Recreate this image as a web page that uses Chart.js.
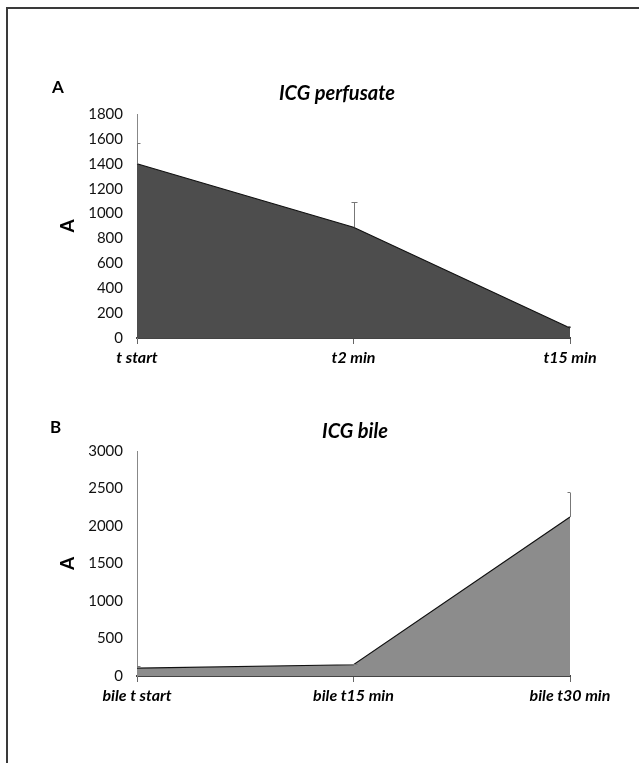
<!DOCTYPE html>
<html>
<head>
<meta charset="utf-8">
<script src="https://cdn.jsdelivr.net/npm/chart.js@4.4.1/dist/chart.umd.min.js"></script>
<style>
  html, body { margin: 0; padding: 0; background: #fff; }
  body { width: 639px; height: 763px; position: relative; overflow: hidden; }
  #frame { position: absolute; left: 6px; top: 7px; width: 700px; height: 800px;
           border-top: 2px solid #3a3a3a; border-left: 2px solid #3a3a3a; }
  canvas { position: absolute; left: 0; }
  #chartA { top: 70px; }
  #chartB { top: 410px; }
</style>
</head>
<body>
<div id="frame"></div>
<canvas id="chartA" width="639" height="310"></canvas>
<canvas id="chartB" width="639" height="308"></canvas>
<script>
// Panel A - ICG perfusate
const perfusateLabels = ['t start', 't2 min', 't15 min'];
const perfusateValues = [1400, 890, 80];
const perfusateErrors = [170, 205, 15];

// Panel B - ICG bile
const bileLabels = ['bile t start', 'bile t15 min', 'bile t30 min'];
const bileValues = [105, 150, 2120];
const bileErrors = [30, 8, 330];

Chart.defaults.font.family = 'Lato';
Chart.defaults.color = '#111';

// draws the upward error bars using the chart's own scales
const errorBars = {
    id: 'errorBars',
    afterDatasetsDraw(chart, args, opts) {
        const { ctx, chartArea } = chart;
        const x = chart.scales.x, y = chart.scales.y;
        const values = chart.data.datasets[0].data;
        ctx.save();
        ctx.strokeStyle = opts.color;
        ctx.lineWidth = 1;
        opts.errors.forEach((err, i) => {
            const px = Math.round(x.getPixelForValue(i)) + 0.5;
            const y0 = y.getPixelForValue(values[i]);
            const y1 = Math.round(y.getPixelForValue(values[i] + err)) + 0.5;
            ctx.beginPath();
            ctx.moveTo(px, y0);
            ctx.lineTo(px, y1);
            ctx.moveTo(Math.max(chartArea.left, px - 3), y1);
            ctx.lineTo(Math.min(chartArea.right, px + 3), y1);
            ctx.stroke();
        });
        ctx.restore();
    }
};

// panel letter and chart title
const panelText = {
    id: 'panelText',
    afterDraw(chart, args, opts) {
        const ctx = chart.ctx;
        ctx.save();
        ctx.fillStyle = '#000';
        ctx.textBaseline = 'middle';
        ctx.textAlign = 'left';
        ctx.font = 'bold 17px Lato';
        ctx.fillText(opts.letter, opts.letterX, opts.letterY);
        ctx.textAlign = 'center';
        ctx.font = 'italic bold 20px Lato';
        ctx.fillText(opts.title, opts.titleX, opts.titleY);
        ctx.restore();
    }
};

function makeChart(canvasId, labels, values, errors, fillColor, yMax, yStep, padTop, text) {
    const ctx = document.getElementById(canvasId).getContext('2d');
    return new Chart(ctx, {
        type: 'line',
        data: {
            labels: labels,
            datasets: [{
                data: values,
                fill: 'origin',
                backgroundColor: fillColor,
                borderColor: '#111',
                borderWidth: 1.2,
                pointRadius: 0,
                tension: 0
            }]
        },
        options: {
            responsive: false,
            animation: false,
            layout: {
                padding: { left: 0, right: 69, top: padTop, bottom: 2 }
            },
            scales: {
                x: {
                    z: 1,
                    grid: {
                        display: true,
                        drawOnChartArea: false,
                        drawTicks: true,
                        tickLength: 6,
                        color: '#666'
                    },
                    border: { display: true, color: '#444', width: 2 },
                    ticks: {
                        autoSkip: false,
                        maxRotation: 0,
                        padding: 4,
                        color: '#000',
                        font: { size: 16, weight: 'bold', style: 'italic' }
                    },
                    afterFit(scale) { scale.height = 40; }
                },
                y: {
                    z: 1,
                    min: 0,
                    max: yMax,
                    grid: { display: false, drawTicks: false },
                    border: { display: true, color: '#888', width: 1 },
                    ticks: {
                        stepSize: yStep,
                        padding: 14,
                        color: '#111',
                        font: { size: 15 },
                        callback: v => String(v)
                    },
                    title: {
                        display: true,
                        text: 'A',
                        color: '#000',
                        padding: { top: 56, bottom: 0 },
                        font: { size: 19, weight: 'bold' }
                    },
                    afterFit(scale) { scale.width = 137; }
                }
            },
            plugins: {
                legend: { display: false },
                tooltip: { enabled: false },
                errorBars: { errors: errors, color: '#777' },
                panelText: text
            }
        },
        plugins: [errorBars, panelText]
    });
}

makeChart('chartA', perfusateLabels, perfusateValues, perfusateErrors, '#4d4d4d', 1800, 200, 44,
    { letter: 'A', letterX: 52, letterY: 18, title: 'ICG perfusate', titleX: 337, titleY: 24 });

makeChart('chartB', bileLabels, bileValues, bileErrors, '#8c8c8c', 3000, 500, 41,
    { letter: 'B', letterX: 50, letterY: 18, title: 'ICG bile', titleX: 355, titleY: 22 });
</script>
</body>
</html>
